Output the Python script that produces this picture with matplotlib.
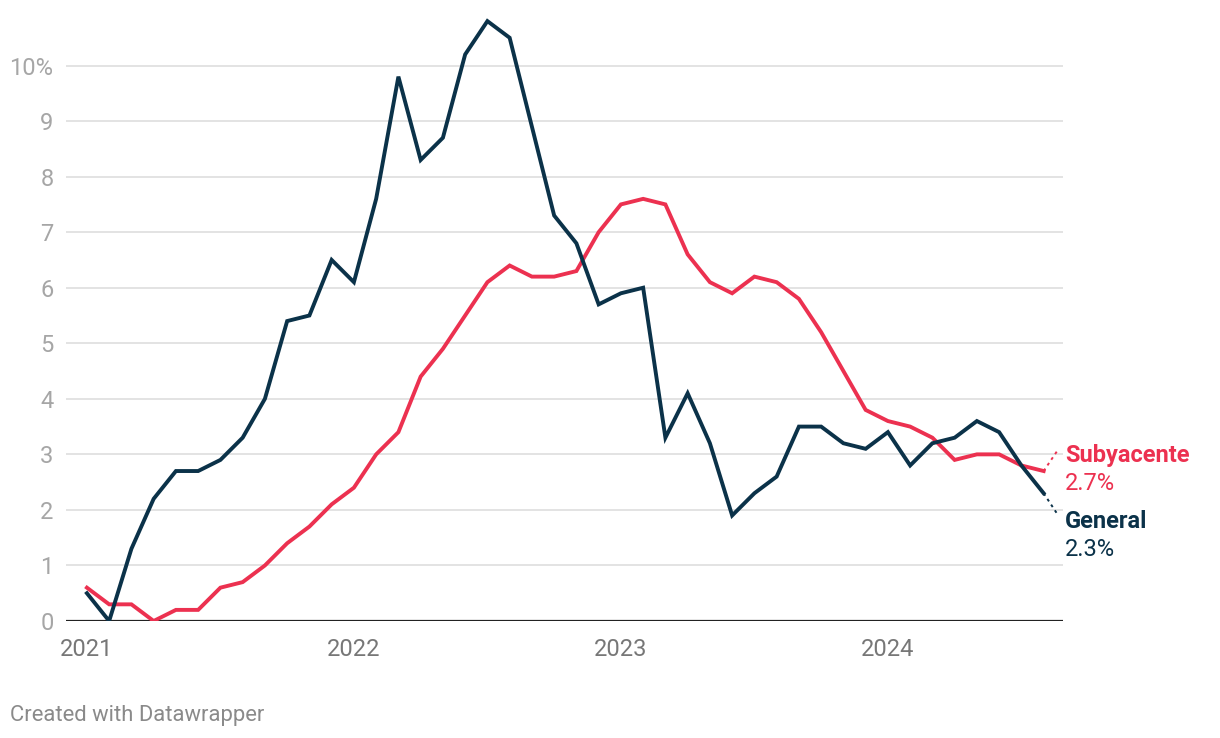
import matplotlib
matplotlib.use("Agg")
import matplotlib.pyplot as plt
import numpy as np

plt.rcParams['font.family'] = ['Roboto', 'DejaVu Sans']

# IPC Spain, monthly, Jan 2021 - Aug 2024
general = [0.5, 0.0, 1.3, 2.2, 2.7, 2.7, 2.9, 3.3, 4.0, 5.4, 5.5, 6.5,
           6.1, 7.6, 9.8, 8.3, 8.7, 10.2, 10.8, 10.5, 8.9, 7.3, 6.8, 5.7,
           5.9, 6.0, 3.3, 4.1, 3.2, 1.9, 2.3, 2.6, 3.5, 3.5, 3.2, 3.1,
           3.4, 2.8, 3.2, 3.3, 3.6, 3.4, 2.8, 2.3]
subyacente = [0.6, 0.3, 0.3, 0.0, 0.2, 0.2, 0.6, 0.7, 1.0, 1.4, 1.7, 2.1,
              2.4, 3.0, 3.4, 4.4, 4.9, 5.5, 6.1, 6.4, 6.2, 6.2, 6.3, 7.0,
              7.5, 7.6, 7.5, 6.6, 6.1, 5.9, 6.2, 6.1, 5.8, 5.2, 4.5, 3.8,
              3.6, 3.5, 3.3, 2.9, 3.0, 3.0, 2.8, 2.7]
years = ['2021', '2022', '2023', '2024']
yticks = [0, 1, 2, 3, 4, 5, 6, 7, 8, 9, 10]
ylabels = ['0', '1', '2', '3', '4', '5', '6', '7', '8', '9', '10%']

red = '#ec3150'
navy = '#0b3249'

months = np.arange(len(general))

fig = plt.figure(figsize=(12.2, 7.38), dpi=100)
W, H = 1220, 738
ax = fig.add_axes([66 / W, (H - 621) / H, (1063 - 66) / W, (621 - 10) / H])

for y in yticks[1:]:
    ax.axhline(y, color='#e3e3e3', lw=1.4, zorder=0)
ax.axhline(0, color='#222222', lw=1.6, zorder=3)

ax.plot(months, subyacente, color=red, lw=2.8, zorder=4, solid_joinstyle='miter')
ax.plot(months, general, color=navy, lw=2.8, zorder=5, solid_joinstyle='miter')

ax.set_xlim(-0.94, 43.87)
ax.set_ylim(0, 11)

ax.set_yticks(yticks)
ax.set_yticklabels(ylabels)
ax.set_xticks([12 * i for i in range(len(years))])
ax.set_xticklabels(years)
ax.tick_params(axis='y', length=0, pad=9, labelsize=17, labelcolor='#a6a6a6')
ax.tick_params(axis='x', length=0, pad=12, labelsize=17, labelcolor='#777777')
for s in ax.spines.values():
    s.set_visible(False)

# end labels with dotted connectors
last = len(general) - 1
lx = 43.96
cx = 43.64
ax.plot([last, cx], [subyacente[-1], subyacente[-1] + 0.38], color=red, lw=1.4,
        ls=(0, (1.5, 2)), clip_on=False)
ax.plot([last, cx], [general[-1], general[-1] - 0.39], color=navy, lw=1.4,
        ls=(0, (1.5, 2)), clip_on=False)
ax.text(lx, subyacente[-1] + 0.17, 'Subyacente', color=red, fontsize=17,
        fontweight='bold', va='baseline', ha='left', clip_on=False)
ax.text(lx, subyacente[-1] - 0.34, f'{subyacente[-1]}%', color=red, fontsize=17,
        va='baseline', ha='left', clip_on=False)
ax.text(lx, general[-1] - 0.62, 'General', color=navy, fontsize=17,
        fontweight='bold', va='baseline', ha='left', clip_on=False)
ax.text(lx, general[-1] - 1.13, f'{general[-1]}%', color=navy, fontsize=17,
        va='baseline', ha='left', clip_on=False)

fig.text(10 / W, 1 - 715 / H, 'Created with Datawrapper', color='#8a8a8a',
         fontsize=15.8, va='center', ha='left')

fig.savefig('out.png', dpi=100)
